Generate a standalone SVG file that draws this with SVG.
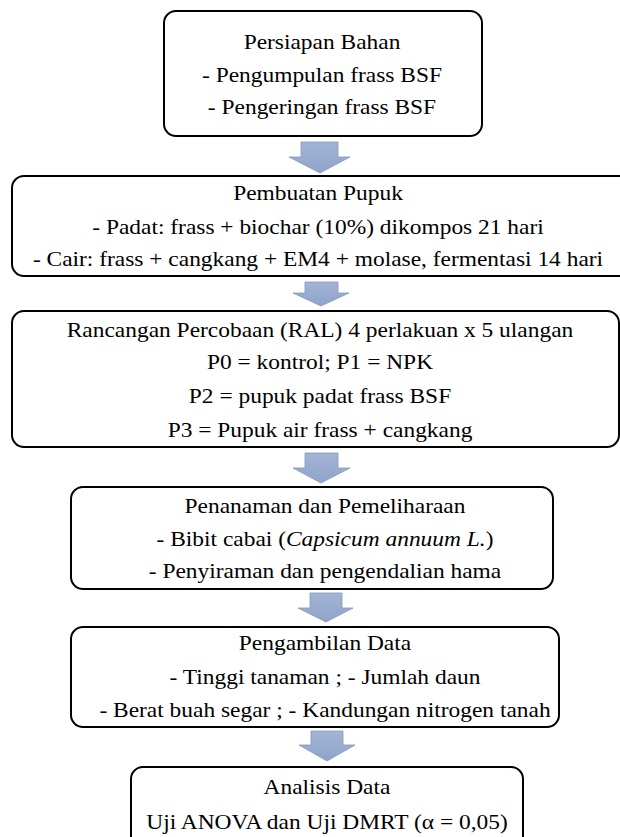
<svg xmlns="http://www.w3.org/2000/svg" width="620" height="837" viewBox="0 0 620 837">
<defs>
<linearGradient id="ag" x1="0" y1="0" x2="0" y2="1">
<stop offset="0" stop-color="#a3b5d6"/>
<stop offset="1" stop-color="#8fa4c9"/>
</linearGradient>
</defs>
<style>
.box{fill:#fff;stroke:#000;stroke-width:2}
.arr{fill:url(#ag);stroke:#8497bd;stroke-width:0.8}
text{font-family:"Liberation Serif","Times New Roman",serif;font-size:21.5px;fill:#000;text-anchor:middle}
.i{font-style:italic}
</style>
<rect width="620" height="837" fill="#fff"/>
<g id="connectors">
<path class="arr" d="M301,142 H338 V157 H350 L320,173 L289,157 H301 Z"/>
<path class="arr" d="M305,282 H338 V293 H349 L321,306 L293,293 H305 Z"/>
<path class="arr" d="M305,453 H338 V468 H350 L321,483 L293,468 H305 Z"/>
<path class="arr" d="M310,593 H342 V608 H353 L326,622 L298,608 H310 Z"/>
<path class="arr" d="M311,731 H343 V745 H355 L327,761 L299,745 H311 Z"/>
</g>
<g id="n1">
<rect class="box" x="164" y="11" width="318" height="125" rx="12"/>
<g transform="translate(322,0) scale(1.09,1)">
<text x="0" y="49">Persiapan Bahan</text>
<text x="0" y="82">- Pengumpulan frass BSF</text>
<text x="0" y="114">- Pengeringan frass BSF</text>
</g>
</g>
<g id="n2">
<rect class="box" x="12" y="176" width="630" height="100" rx="12"/>
<g transform="translate(318,0) scale(1.09,1)">
<text x="0" y="200">Pembuatan Pupuk</text>
<text x="0" y="234">- Padat: frass + biochar (10%) dikompos 21 hari</text>
<text x="0" y="266">- Cair: frass + cangkang + EM4 + molase, fermentasi 14 hari</text>
</g>
</g>
<g id="n3">
<rect class="box" x="12" y="311" width="607" height="136" rx="12"/>
<g transform="translate(320,0) scale(1.09,1)">
<text x="0" y="337">Rancangan Percobaan (RAL) 4 perlakuan x 5 ulangan</text>
<text x="0" y="369">P0 = kontrol; P1 = NPK</text>
<text x="0" y="403">P2 = pupuk padat frass BSF</text>
<text x="0" y="437">P3 = Pupuk air frass + cangkang</text>
</g>
</g>
<g id="n4">
<rect class="box" x="71" y="487" width="482" height="102" rx="12"/>
<g transform="translate(325,0) scale(1.09,1)">
<text x="0" y="513">Penanaman dan Pemeliharaan</text>
<text x="0" y="546">- Bibit cabai (<tspan class="i">Capsicum annuum L.</tspan>)</text>
<text x="0" y="578">- Penyiraman dan pengendalian hama</text>
</g>
</g>
<g id="n5">
<rect class="box" x="71" y="627" width="488" height="100" rx="12"/>
<g transform="translate(325,0) scale(1.09,1)">
<text x="0" y="650">Pengambilan Data</text>
<text x="0" y="684">- Tinggi tanaman ; - Jumlah daun</text>
<text x="0" y="717">- Berat buah segar ; - Kandungan nitrogen tanah</text>
</g>
</g>
<g id="n6">
<rect class="box" x="131" y="767" width="392" height="90" rx="12"/>
<g transform="translate(327,0) scale(1.09,1)">
<text x="0" y="794">Analisis Data</text>
<text x="0" y="829">Uji ANOVA dan Uji DMRT (α = 0,05)</text>
</g>
</g>
</svg>
